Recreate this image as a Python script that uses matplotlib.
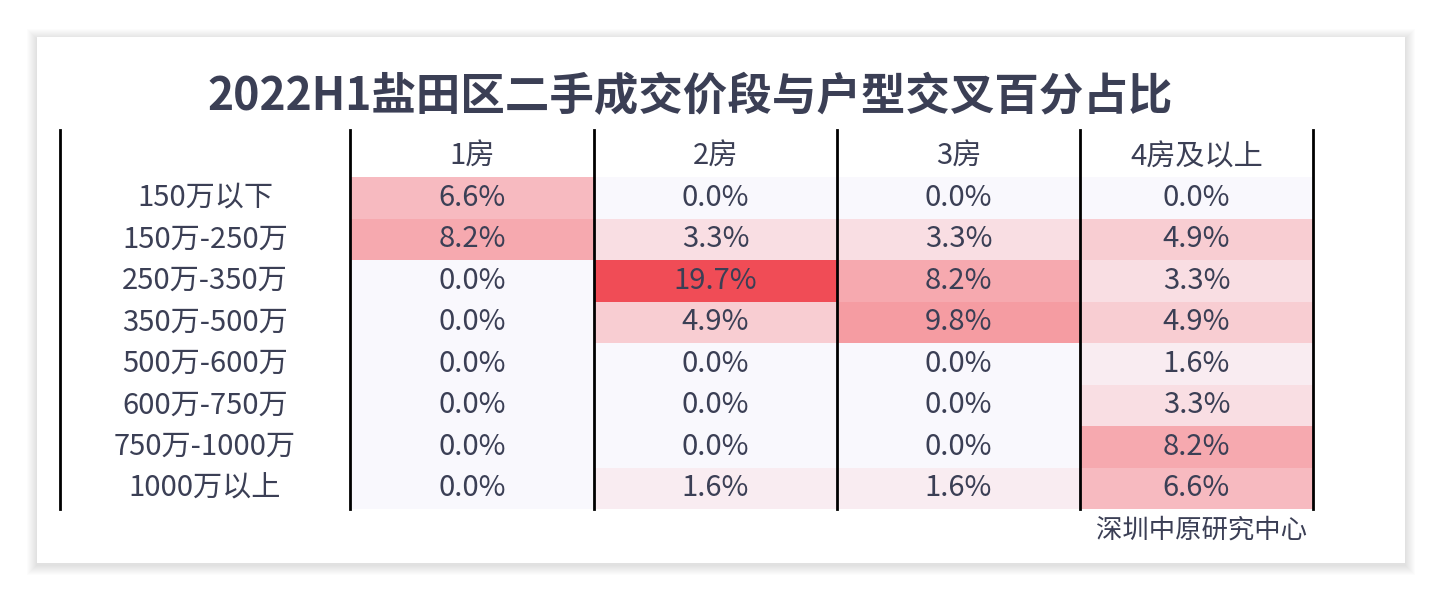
import matplotlib.pyplot as plt
import numpy as np
from matplotlib.colors import LinearSegmentedColormap
from matplotlib.patches import Rectangle

plt.rcParams['font.family'] = 'Noto Sans CJK SC'

price_bands = ['150万以下', '150万-250万', '250万-350万', '350万-500万',
               '500万-600万', '600万-750万', '750万-1000万', '1000万以上']
room_types = ['1房', '2房', '3房', '4房及以上']
share = np.array([
    [6.6, 0.0, 0.0, 0.0],
    [8.2, 3.3, 3.3, 4.9],
    [0.0, 19.7, 8.2, 3.3],
    [0.0, 4.9, 9.8, 4.9],
    [0.0, 0.0, 0.0, 1.6],
    [0.0, 0.0, 0.0, 3.3],
    [0.0, 0.0, 0.0, 8.2],
    [0.0, 1.6, 1.6, 6.6],
])

fig = plt.figure(figsize=(14.42, 6), dpi=100)
ax = fig.add_axes([0, 0, 1, 1])
ax.set_xlim(0, 1442)
ax.set_ylim(600, 0)
ax.axis('off')

# card with soft shadow
for i in range(10):
    d = 10 - i
    ax.add_patch(Rectangle((37 - d, 37 - d + 2), 1368 + 2 * d, 526 + 2 * d,
                           color='black', alpha=0.012, lw=0))
ax.add_patch(Rectangle((37, 37), 1368, 526, color='white', lw=0))

xe = np.array([350, 594, 837, 1080, 1313])
ye = np.linspace(177, 509, len(price_bands) + 1)
cmap = LinearSegmentedColormap.from_list('r', [(0, '#f9f8fd'), (0.17, '#f9dde2'),
                                               (0.42, '#f6a8ae'), (1, '#f04c56')])
ax.pcolormesh(xe, ye, share, cmap=cmap, vmin=0, vmax=19.7)

txt = '#3b3f55'
ax.text(690, 97, '2022H1盐田区二手成交价段与户型交叉百分占比', ha='center', va='center',
        fontsize=32, fontweight='bold', color=txt)
xc = (xe[:-1] + xe[1:]) / 2
yc = (ye[:-1] + ye[1:]) / 2
for j, r in enumerate(room_types):
    ax.text(xc[j], 157, r, ha='center', va='center', fontsize=21, color=txt)
for i, p in enumerate(price_bands):
    ax.text(205, yc[i], p, ha='center', va='center', fontsize=21, color=txt)
    for j in range(len(room_types)):
        ax.text(xc[j], yc[i], f'{share[i, j]:.1f}%', ha='center', va='center',
                fontsize=21, color=txt)
for x in [60, 350, 594, 837, 1080, 1313]:
    ax.plot([x, x], [130, 509], color='black', lw=2)
ax.text(1307, 530, '深圳中原研究中心', ha='right', va='center', fontsize=19,
        fontweight='medium', color=txt)

fig.savefig('out.png', dpi=100)
